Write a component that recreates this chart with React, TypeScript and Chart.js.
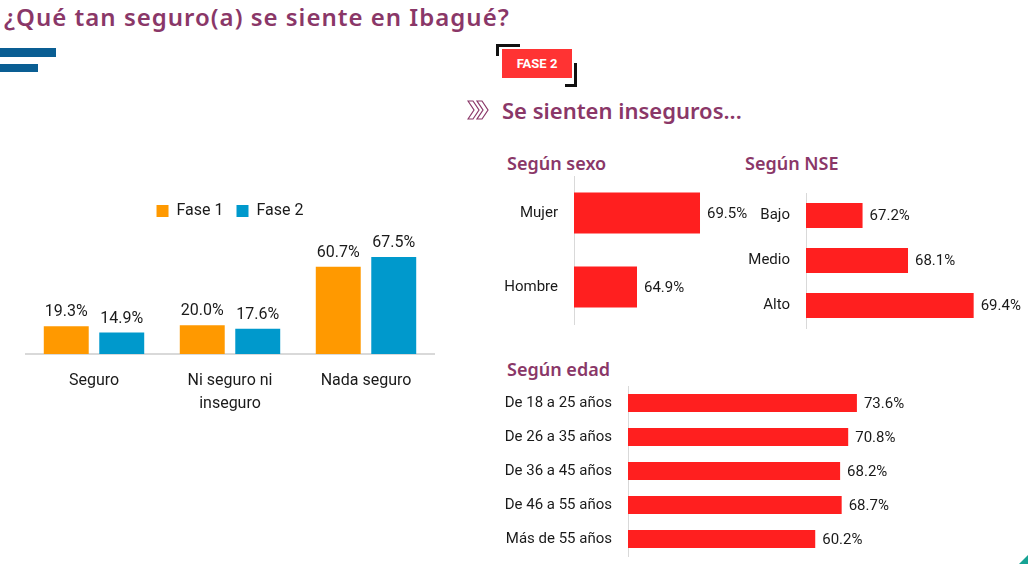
import React, { useEffect, useRef } from "react";
import { Chart, registerables } from "chart.js";
Chart.register(...registerables);

// ---------- data ----------
const overallCategories: (string | string[])[] = ["Seguro", ["Ni seguro ni", "inseguro"], "Nada seguro"];
const seriesNames = ["Fase 1", "Fase 2"];
const fase1Values = [19.3, 20.0, 60.7];
const fase2Values = [14.9, 17.6, 67.5];

const sexoLabels = ["Mujer", "Hombre"];
const sexoValues = [69.5, 64.9];

const nseLabels = ["Bajo", "Medio", "Alto"];
const nseValues = [67.2, 68.1, 69.4];

const edadLabels = ["De 18 a 25 años", "De 26 a 35 años", "De 36 a 45 años", "De 46 a 55 años", "Más de 55 años"];
const edadValues = [73.6, 70.8, 68.2, 68.7, 60.2];

// ---------- styles ----------
const FONT = 'Roboto, "Liberation Sans", sans-serif';
const HEAD_FONT = '"Noto Sans", "Open Sans", sans-serif';
const TEXT = "#1a1a1a";
const PURPLE = "#8a3768";
const ORANGE = "#ff9900";
const BLUE = "#0099cc";
const RED = "#ff1f1f";
const AXIS = "#d9d9d9";
const FS = 16;
const FS_H = 15;

const valueLabels = {
  id: "valueLabels",
  afterDatasetsDraw(chart: any, _args: any, opts: any) {
    const { ctx } = chart;
    const horiz = chart.options.indexAxis === "y";
    ctx.save();
    ctx.font = `${(opts && opts.size) || FS}px ${FONT}`;
    ctx.fillStyle = TEXT;
    chart.data.datasets.forEach((ds: any, i: number) => {
      const meta = chart.getDatasetMeta(i);
      meta.data.forEach((el: any, j: number) => {
        const t = Number(ds.data[j]).toFixed(1) + "%";
        if (horiz) {
          ctx.textAlign = "left";
          ctx.textBaseline = "middle";
          ctx.fillText(t, el.x + 7, el.y + 1);
        } else {
          ctx.textAlign = "center";
          ctx.textBaseline = "bottom";
          ctx.fillText(t, el.x, el.y - 6);
        }
      });
    });
    ctx.restore();
  },
};

function GroupedChart() {
  const ref = useRef<HTMLCanvasElement>(null);
  useEffect(() => {
    const chart = new Chart(ref.current!, {
      type: "bar",
      data: {
        labels: overallCategories as any,
        datasets: [
          { label: seriesNames[0], data: fase1Values, backgroundColor: ORANGE, categoryPercentage: 0.816, barPercentage: 0.81 },
          { label: seriesNames[1], data: fase2Values, backgroundColor: BLUE, categoryPercentage: 0.816, barPercentage: 0.81 },
        ],
      },
      options: {
        animation: false,
        responsive: false,
        layout: { padding: { left: 26, right: 26, top: 0, bottom: 0 } },
        plugins: {
          legend: {
            display: true,
            position: "top",
            labels: { boxWidth: 12, boxHeight: 12, padding: 13, color: TEXT, font: { size: FS, family: FONT } },
          },
          tooltip: { enabled: false },
          valueLabels: { size: FS },
        } as any,
        scales: {
          y: { display: false, min: 0, max: 87.0 },
          x: {
            grid: { display: false, drawTicks: false },
            border: { display: true, color: AXIS, width: 2 },
            ticks: { padding: 15, color: TEXT, font: { size: FS, family: FONT, lineHeight: "23px" as any } },
          },
        },
      },
      plugins: [valueLabels],
    });
    return () => chart.destroy();
  }, []);
  return <canvas ref={ref} width={460} height={240} style={{ position: "absolute", left: 0, top: 190 }} />;
}

const PAD = 10; // half of the tick label line height, reserved by the category axis

function HBar(props: {
  labels: string[]; values: number[]; min: number; max: number;
  left: number; top: number; width: number; height: number; axisWidth: number; barPct: number; padRight: number;
}) {
  const ref = useRef<HTMLCanvasElement>(null);
  useEffect(() => {
    const chart = new Chart(ref.current!, {
      type: "bar",
      data: {
        labels: props.labels,
        datasets: [{ data: props.values, backgroundColor: RED, categoryPercentage: 1, barPercentage: props.barPct }],
      },
      options: {
        animation: false,
        responsive: false,
        indexAxis: "y",
        layout: { padding: { left: 0, top: 0, bottom: 0, right: props.padRight } },
        plugins: { legend: { display: false }, tooltip: { enabled: false }, valueLabels: { size: FS_H } } as any,
        scales: {
          x: { display: false, min: props.min, max: props.max },
          y: {
            afterFit: (s: any) => { s.width = props.axisWidth; },
            grid: { display: false, drawTicks: true, tickLength: 16 },
            border: { display: true, color: AXIS, width: 1 },
            ticks: { padding: 0, color: TEXT, font: { size: FS_H, family: FONT, lineHeight: "20px" as any } },
          },
        },
      },
      plugins: [valueLabels],
    });
    return () => chart.destroy();
  }, []);
  return (
    <canvas ref={ref} width={props.width + props.padRight} height={props.height + 2 * PAD}
      style={{ position: "absolute", left: props.left, top: props.top - PAD }} />
  );
}

const abs = (l: number, t: number, w: number, h: number, bg: string): React.CSSProperties => ({
  position: "absolute", left: l, top: t, width: w, height: h, background: bg,
});

export default function App() {
  return (
    <div style={{ position: "absolute", left: 0, top: 0, width: 1028, height: 564, background: "#fff", overflow: "hidden", fontFamily: HEAD_FONT }}>
      <div style={{ position: "absolute", left: 4, top: 1, fontSize: 24, fontWeight: 600, letterSpacing: 1, color: PURPLE, lineHeight: "32px", whiteSpace: "nowrap" }}>
        ¿Qué tan seguro(a) se siente en Ibagué?
      </div>
      <div style={abs(0, 48, 56, 9, "#0a5e93")} />
      <div style={abs(0, 64, 38, 8, "#0a5e93")} />

      {/* FASE 2 badge */}
      <div style={abs(496, 44, 24, 3, "#111")} />
      <div style={abs(496, 44, 3, 12, "#111")} />
      <div style={{ ...abs(502, 49, 70, 29, "#ff3333"), color: "#fff", fontWeight: 700, fontSize: 13, lineHeight: "29px", textAlign: "center", fontFamily: FONT }}>
        FASE 2
      </div>
      <div style={abs(565, 84, 12, 3, "#111")} />
      <div style={abs(574, 63, 3, 24, "#111")} />

      {/* chevrons */}
      <svg width={24} height={20} style={{ position: "absolute", left: 467, top: 100 }}>
        <polygon points="1,1 6,1 12,10 6,19 1,19 7,10" fill="none" stroke={PURPLE} strokeWidth={1.2} />
        <polygon points="10,1 15,1 21,10 15,19 10,19 16,10" fill="none" stroke={PURPLE} strokeWidth={1.2} />
      </svg>
      <div style={{ position: "absolute", left: 502, top: 95, fontSize: 22, fontWeight: 600, color: PURPLE, lineHeight: "30px", whiteSpace: "nowrap" }}>
        Se sienten inseguros...
      </div>

      <div style={{ position: "absolute", left: 507, top: 150, fontSize: 18, fontWeight: 600, color: PURPLE, lineHeight: "26px", whiteSpace: "nowrap" }}>Según sexo</div>
      <div style={{ position: "absolute", left: 745, top: 150, fontSize: 18, fontWeight: 600, color: PURPLE, lineHeight: "26px", whiteSpace: "nowrap" }}>Según NSE</div>
      <div style={{ position: "absolute", left: 507, top: 356, fontSize: 18, fontWeight: 600, color: PURPLE, lineHeight: "26px", whiteSpace: "nowrap" }}>Según edad</div>

      <GroupedChart />
      <HBar labels={sexoLabels} values={sexoValues} min={60.3} max={72.42} left={490} top={176} width={250} height={148} axisWidth={84} barPct={0.554} padRight={50} />
      <HBar labels={nseLabels} values={nseValues} min={66.08} max={70.476} left={730} top={193} width={298} height={135} axisWidth={76} barPct={0.556} padRight={0} />
      <HBar labels={edadLabels} values={edadValues} min={0} max={97.1} left={490} top={386} width={440} height={170} axisWidth={138} barPct={0.53} padRight={0} />

      <svg width={1028} height={564} style={{ position: "absolute", left: 0, top: 0, pointerEvents: "none" }}>
        <polygon points="1019,564 1028,555 1028,564" fill="#16a394" />
      </svg>
    </div>
  );
}
